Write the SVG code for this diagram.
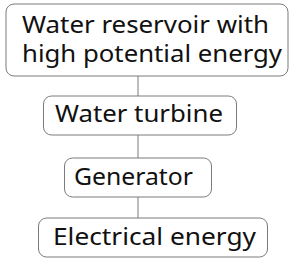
<svg xmlns="http://www.w3.org/2000/svg" width="300" height="264" viewBox="0 0 300 264">
<style>
.box{fill:#fff;stroke:#7a7a7a;stroke-width:1}
.t{font-family:"Noto Sans","DejaVu Sans",sans-serif;font-size:23px;fill:#111}
.c{stroke:#999;stroke-width:1.3;fill:none}
</style>
<rect width="300" height="264" fill="#fff"/>
<g id="connectors">
<line class="c" x1="138" y1="76" x2="138" y2="96"/>
<line class="c" x1="138" y1="135" x2="138" y2="158"/>
<line class="c" x1="138" y1="197" x2="138" y2="218"/>
</g>
<g id="n1">
<rect class="box" x="6" y="4" width="282" height="72" rx="8"/>
<text class="t" x="22" y="33" textLength="247" lengthAdjust="spacingAndGlyphs">Water reservoir with</text>
<text class="t" x="22" y="62" textLength="260" lengthAdjust="spacingAndGlyphs">high potential energy</text>
</g>
<g id="n2">
<rect class="box" x="43.5" y="96" width="193" height="39" rx="8"/>
<text class="t" x="55" y="122" textLength="168" lengthAdjust="spacingAndGlyphs">Water turbine</text>
</g>
<g id="n3">
<rect class="box" x="64.5" y="158" width="147" height="39" rx="8"/>
<text class="t" x="74" y="185" textLength="119" lengthAdjust="spacingAndGlyphs">Generator</text>
</g>
<g id="n4">
<rect class="box" x="38.5" y="218" width="229" height="39" rx="8"/>
<text class="t" x="53" y="245" textLength="203" lengthAdjust="spacingAndGlyphs">Electrical energy</text>
</g>
</svg>
